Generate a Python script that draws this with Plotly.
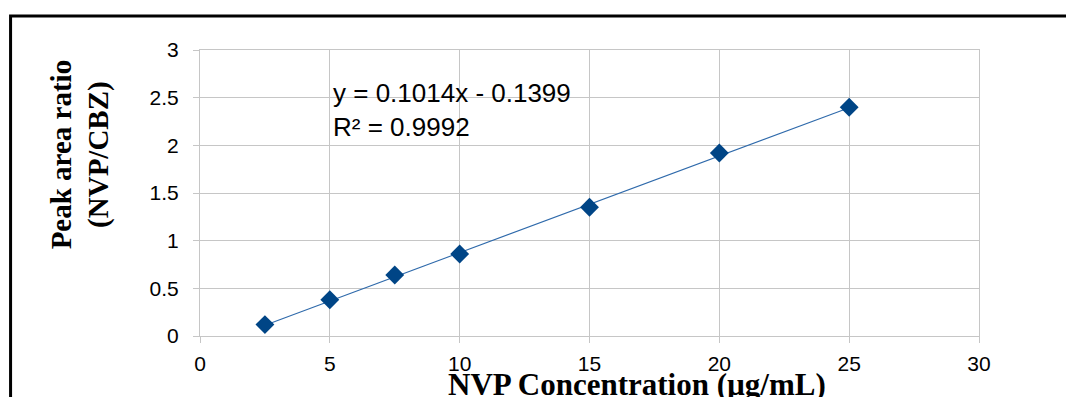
import plotly.graph_objects as go

# Calibration data: NVP concentration vs. peak area ratio (NVP/CBZ)
concentration = [2.5, 5, 7.5, 10, 15, 20, 25]
area_ratio = [0.12, 0.38, 0.64, 0.86, 1.35, 1.92, 2.40]

# Linear regression reported for the calibration curve
slope = 0.1014
intercept = -0.1399
r_squared = 0.9992

x_ticks = [0, 5, 10, 15, 20, 25, 30]
y_ticks = [0, 0.5, 1, 1.5, 2, 2.5, 3]

fit_x = [min(concentration), max(concentration)]
fit_y = [slope * v + intercept for v in fit_x]

fig = go.Figure()
fig.add_trace(go.Scatter(
    x=fit_x, y=fit_y, mode="lines",
    line=dict(color="#2f6aab", width=1.1),
    hoverinfo="skip", showlegend=False,
))
fig.add_trace(go.Scatter(
    x=concentration, y=area_ratio, mode="markers",
    marker=dict(symbol="diamond", size=14.5, color="#004586", line=dict(width=0)),
    showlegend=False,
))

grid = "#c6c6c6"
tick_font = dict(family="Liberation Sans, Arial, sans-serif", size=21, color="#000000")
fig.update_xaxes(
    range=[0, 30], tickvals=x_ticks, ticktext=[str(v) for v in x_ticks],
    showgrid=True, gridcolor=grid, gridwidth=1,
    showline=True, linecolor=grid, linewidth=1, mirror=True,
    ticks="outside", ticklen=6, tickcolor=grid, tickwidth=1,
    tickfont=tick_font, ticklabelstandoff=3, zeroline=False,
)
fig.update_yaxes(
    range=[0, 3], tickvals=y_ticks, ticktext=[f"{v:g}" for v in y_ticks],
    showgrid=True, gridcolor=grid, gridwidth=1,
    showline=True, linecolor=grid, linewidth=1, mirror=True,
    ticks="outside", ticklen=6, tickcolor=grid, tickwidth=1,
    tickfont=tick_font, ticklabelstandoff=10, zeroline=False,
)

serif = "Liberation Serif, Times New Roman, serif"

fig.add_annotation(
    xref="paper", yref="paper", x=(80 - 200) / 779.3, y=(336 - 154) / 286.5,
    text="<b>Peak area ratio<br>(NVP/CBZ)</b>", textangle=-90, showarrow=False,
    font=dict(family=serif, size=29, color="#000000"), xanchor="center", yanchor="middle",
)
fig.add_annotation(
    xref="paper", yref="paper", x=(637 - 200) / 779.3, y=(336 - 385) / 286.5,
    text="<b>NVP Concentration (µg/mL)</b>", showarrow=False,
    font=dict(family=serif, size=31, color="#000000"),
    xanchor="center", yanchor="middle",
)
fig.add_annotation(
    xref="paper", yref="paper", x=(331 - 200) / 779.3, y=(336 - 110) / 286.5,
    text=f"y = {slope}x - {abs(intercept)}<br>R² = {r_squared}", showarrow=False,
    align="left", xanchor="left", yanchor="middle",
    font=dict(family="Liberation Sans, Arial, sans-serif", size=26, color="#000000"),
)

# Outer frame around the chart
fig.add_shape(
    type="rect", xref="paper", yref="paper",
    x0=(10.5 - 200) / 779.3, x1=1.3, y0=-0.5, y1=(336 - 15.5) / 286.5,
    line=dict(color="#000000", width=3), fillcolor="rgba(0,0,0,0)", layer="above",
)

fig.update_layout(
    width=1066, height=397,
    margin=dict(l=200, r=87, t=50, b=61),
    paper_bgcolor="#ffffff", plot_bgcolor="#ffffff",
    showlegend=False,
)

fig.write_html("out.html")
